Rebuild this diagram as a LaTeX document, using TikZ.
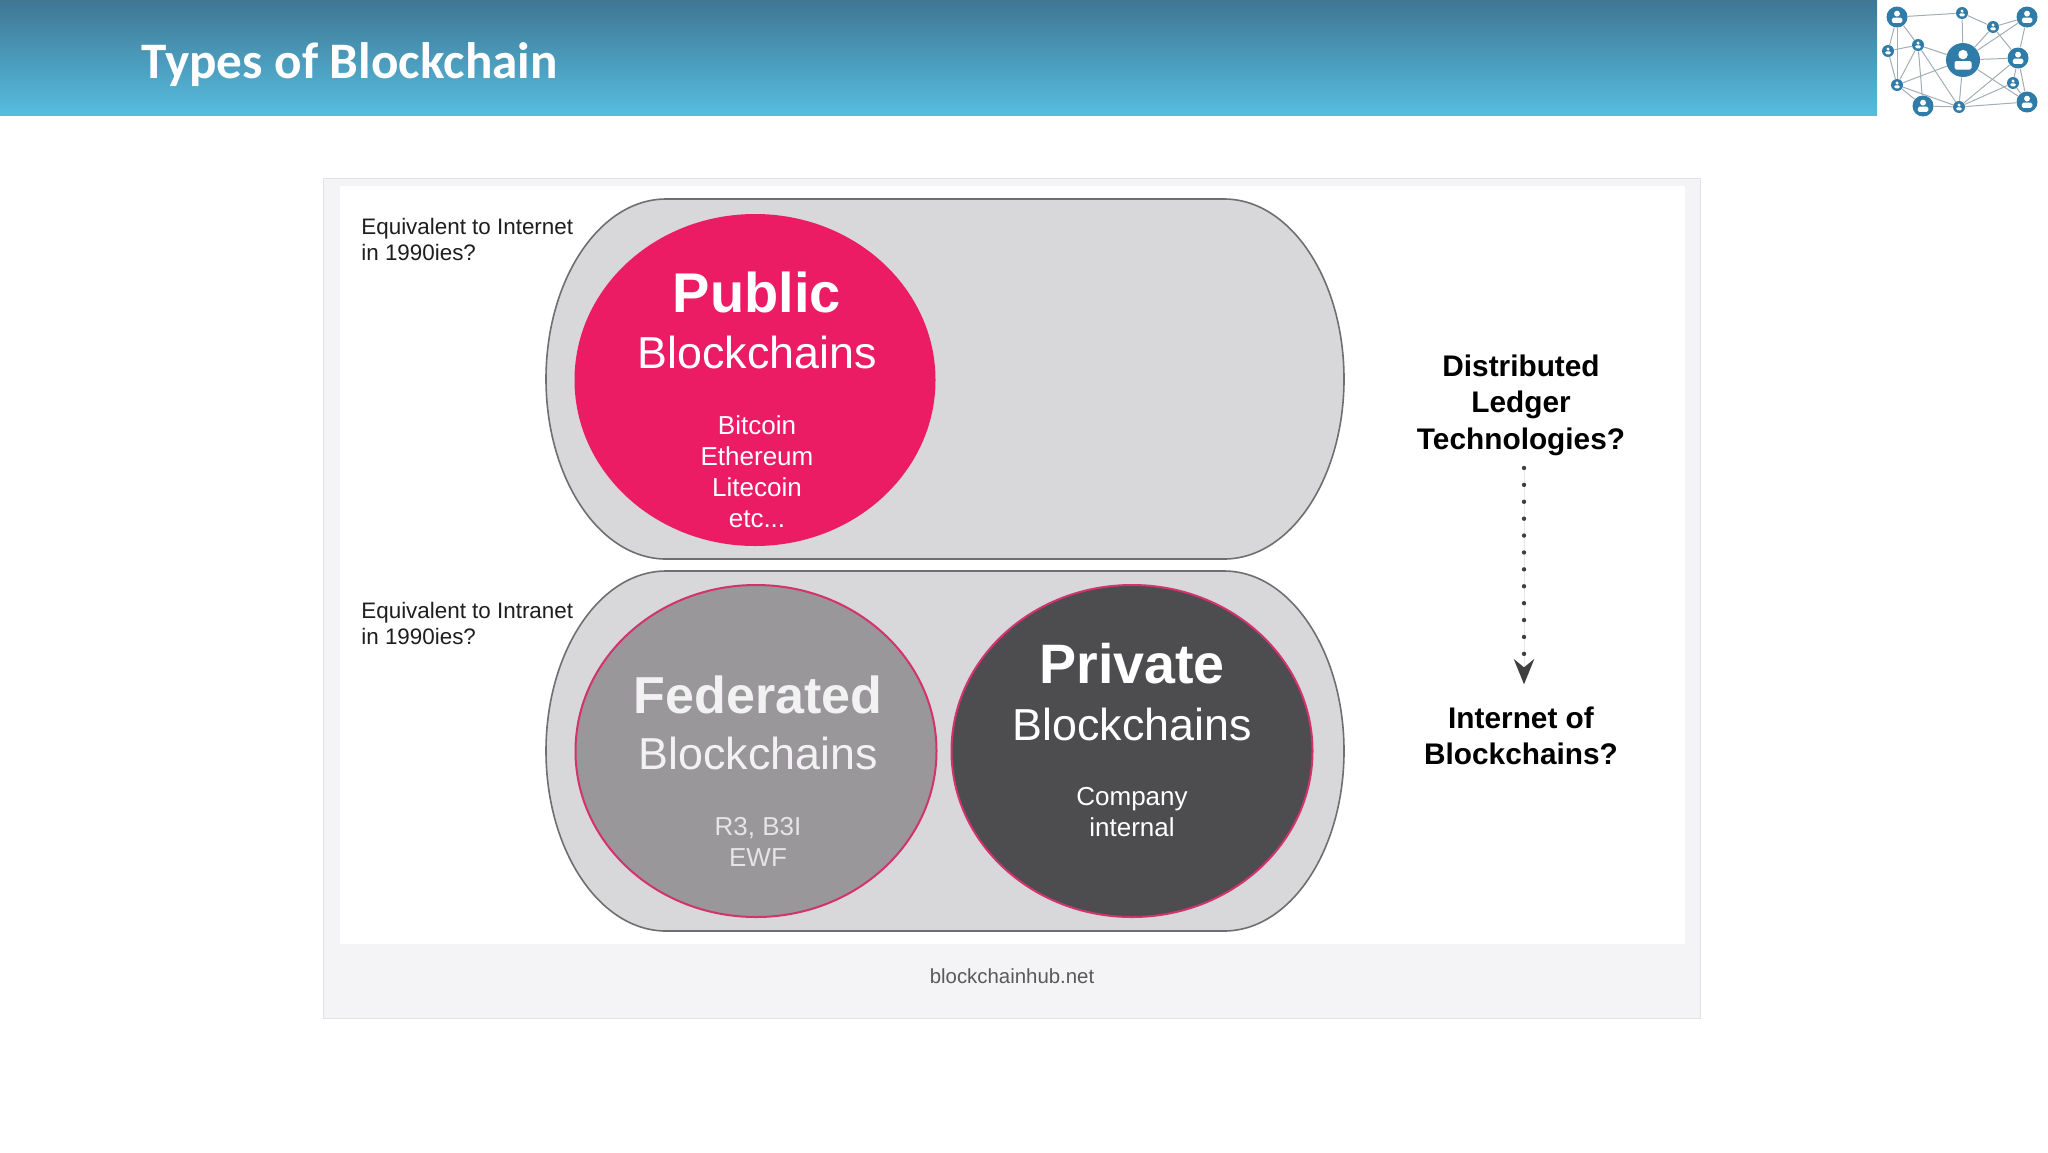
\documentclass[tikz,border=0pt]{standalone}
\usepackage{fontspec}
\setmainfont{Liberation Sans}
\newfontfamily\titlefont{Carlito}
\usetikzlibrary{arrows.meta, shapes.geometric}

\definecolor{headtop}{HTML}{3F7694}
\definecolor{headbottom}{HTML}{56BDDF}
\definecolor{panelfill}{HTML}{F4F4F6}
\definecolor{panelline}{HTML}{E2E2E4}
\definecolor{pillfill}{HTML}{D8D7D9}
\definecolor{pillline}{HTML}{6F6F71}
\definecolor{publicred}{HTML}{EC1C64}
\definecolor{fedgrey}{HTML}{99979A}
\definecolor{privgrey}{HTML}{4D4C4F}
\definecolor{ringpink}{HTML}{D2336C}
\definecolor{logoblue}{HTML}{2F7CA8}
\definecolor{logoline}{HTML}{A3ADB4}
\definecolor{inktext}{HTML}{1E1E1E}

\tikzset{
    pill/.style={draw=pillline, line width=0.8pt, fill=pillfill},
    pillend/.style={x radius=60pt, y radius=90pt},
    bubble/.style={ellipse, inner sep=0pt, minimum width=180.5pt, minimum height=166pt},
    bubbletext/.style={text=white, align=center, inner sep=0pt},
    sidetext/.style={text=inktext, align=left, anchor=west, inner sep=0pt,
        font=\fontsize{11.2}{13}\selectfont},
    asktext/.style={text=black, align=center, inner sep=0pt,
        font=\fontsize{14.9}{18.3}\selectfont\bfseries},
    usernode/.style={circle, fill=logoblue, inner sep=0pt, minimum size=#1*0.5pt,
        path picture={
            \fill[white] (path picture bounding box.center) ++(0,-0.16*#1) circle [radius=0.14*#1];
            \fill[white, rounded corners=0.8pt] (path picture bounding box.center) ++(-0.25*#1,0.03*#1) rectangle ++(0.5*#1,0.25*#1);
        }},
    logoedge/.style={draw=logoline, line width=0.5pt},
}

\begin{document}
\begin{tikzpicture}[x=0.5pt, y=-0.5pt]
    \useasboundingbox (0,0) rectangle (2048,1152);

    % Header band
    \shade[top color=headtop, bottom color=headbottom] (0,0) rectangle (1877,115);
    \node[anchor=west, inner sep=0pt, text=white, font=\fontsize{25.6}{30}\selectfont\titlefont\bfseries]
        (title) at (141,65) {Types of Blockchain};

    % Logo nodes
    \path
    (1897, 17) node[usernode=21] (U1) {}
    (1962, 13) node[usernode=12] (U2) {}
    (1993, 27) node[usernode=12] (U3) {}
    (2027, 17) node[usernode=21] (U4) {}
    (1888, 51) node[usernode=12] (U5) {}
    (1918, 45) node[usernode=12] (U6) {}
    (1963, 60) node[usernode=34] (U7) {}
    (2018, 58) node[usernode=21] (U8) {}
    (1897, 85) node[usernode=12] (U9) {}
    (2013, 83) node[usernode=12] (U10) {}
    (1923, 106) node[usernode=21] (U11) {}
    (1959, 107) node[usernode=12] (U12) {}
    (2027, 102) node[usernode=21] (U13) {}
    ;

    % Logo edges
    \draw[logoedge] (U1) -- (U2);
    \draw[logoedge] (U2) -- (U3);
    \draw[logoedge] (U3) -- (U4);
    \draw[logoedge] (U1) -- (U5);
    \draw[logoedge] (U1) -- (U6);
    \draw[logoedge] (U1) -- (U9);
    \draw[logoedge] (U5) -- (U6);
    \draw[logoedge] (U5) -- (U9);
    \draw[logoedge] (U6) -- (U7);
    \draw[logoedge] (U6) -- (U9);
    \draw[logoedge] (U6) -- (U11);
    \draw[logoedge] (U6) -- (U12);
    \draw[logoedge] (U2) -- (U7);
    \draw[logoedge] (U3) -- (U7);
    \draw[logoedge] (U4) -- (U7);
    \draw[logoedge] (U3) -- (U8);
    \draw[logoedge] (U4) -- (U8);
    \draw[logoedge] (U7) -- (U8);
    \draw[logoedge] (U7) -- (U9);
    \draw[logoedge] (U7) -- (U12);
    \draw[logoedge] (U7) -- (U13);
    \draw[logoedge] (U8) -- (U12);
    \draw[logoedge] (U8) -- (U10);
    \draw[logoedge] (U8) -- (U13);
    \draw[logoedge] (U10) -- (U12);
    \draw[logoedge] (U10) -- (U13);
    \draw[logoedge] (U9) -- (U11);
    \draw[logoedge] (U9) -- (U12);
    \draw[logoedge] (U11) -- (U12);
    \draw[logoedge] (U12) -- (U13);

    % Panel and pills
    \draw[panelline, fill=panelfill] (323,178) rectangle (1700,1018);
    \fill[white] (340,186) rectangle (1685,944);
    \draw[pill] (666,199) -- (1224,199) arc[start angle=90, end angle=-90, pillend]
        -- (666,559) arc[start angle=270, end angle=90, pillend] -- cycle;
    \draw[pill] (666,571) -- (1224,571) arc[start angle=90, end angle=-90, pillend]
        -- (666,931) arc[start angle=270, end angle=90, pillend] -- cycle;

    % Bubbles
    \path
    (755, 380) node[bubble, fill=publicred] (public) {}
    (756, 751) node[bubble, fill=fedgrey, draw=ringpink, line width=1pt] (federated) {}
    (1132, 751) node[bubble, fill=privgrey, draw=ringpink, line width=1pt] (private) {}
    ;

    % Public text
    \node[bubbletext, font=\fontsize{28}{32}\selectfont\bfseries] (publicname) at (757,292) {Public};
    \node[bubbletext, font=\fontsize{22.4}{26}\selectfont] (publicword) at (757,352) {Blockchains};
    \node[bubbletext, font=\fontsize{13}{15.5}\selectfont] (publiclist) at (757,472) {Bitcoin\\Ethereum\\Litecoin\\etc...};

    % Federated text
    \node[bubbletext, text=white!95!black, font=\fontsize{26}{30}\selectfont\bfseries] (fedname) at (758,695) {Federated};
    \node[bubbletext, text=white!95!black, font=\fontsize{22.4}{26}\selectfont] (fedword) at (758,753) {Blockchains};
    \node[bubbletext, text=white!90!black, font=\fontsize{13}{15.5}\selectfont] (fedlist) at (758,842) {R3, B3I\\EWF};

    % Private text
    \node[bubbletext, font=\fontsize{27.8}{32}\selectfont\bfseries] (privname) at (1132,664) {Private};
    \node[bubbletext, font=\fontsize{22.4}{26}\selectfont] (privword) at (1132,724) {Blockchains};
    \node[bubbletext, font=\fontsize{13}{15.5}\selectfont] (privlist) at (1132,812) {Company\\internal};

    % Side labels
    \node[sidetext] (internet) at (361,239) {Equivalent to Internet\\in 1990ies?};
    \node[sidetext] (intranet) at (361,623) {Equivalent to Intranet\\in 1990ies?};
    \node[asktext] (ledger) at (1521,405) {Distributed\\Ledger\\Technologies?};
    \node[asktext] (iob) at (1521,736) {Internet of\\Blockchains?};
    \node[inner sep=0pt, text=black!65, font=\fontsize{10.2}{12}\selectfont] (source) at (1012,976) {blockchainhub.net};

    % Dotted arrow
    \draw[-{Stealth[length=12.5pt, width=10pt, inset=4pt]}, draw=black!75, fill=black!75, line width=2.2pt,
        line cap=round, dash pattern=on 0pt off 8.45pt, shorten <=6pt, shorten >=11pt]
        ([xshift=1.5pt]ledger.south) -- ([xshift=1.5pt]iob.north);
\end{tikzpicture}
\end{document}
